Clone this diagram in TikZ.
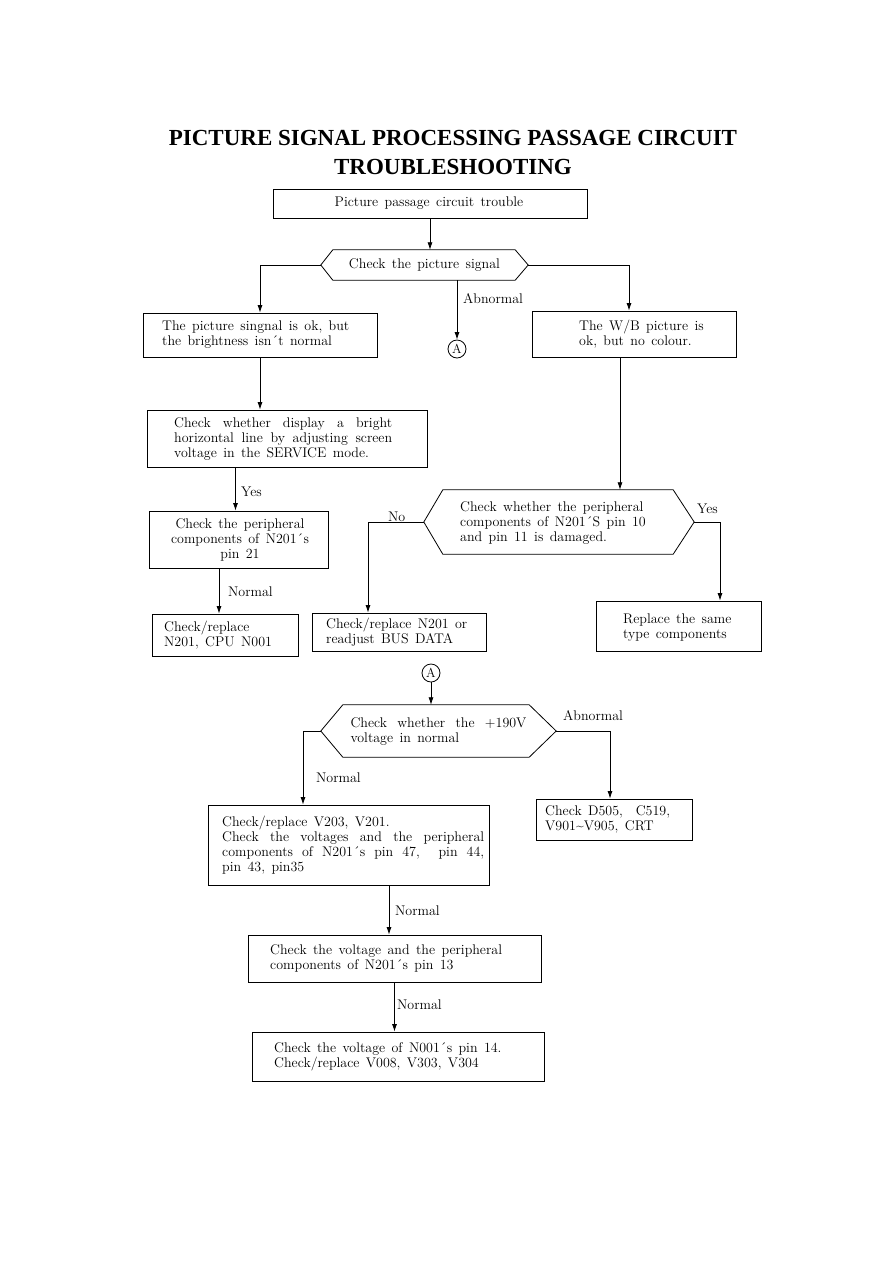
\documentclass[tikz,border=0pt]{standalone}
\usepackage{fontspec}
\setmainfont{Latin Modern Roman}[WordSpace=1.4]
\newfontfamily\titlefont{Liberation Serif}
\usetikzlibrary{arrows.meta,calc}
\newcommand\jline[2]{\makebox[#1][s]{#2}}
\begin{document}
\begin{tikzpicture}[x=1pt,y=-1pt,
  every node/.style={font=\fontsize{14}{15}\selectfont},
  box/.style={draw, line width=0.8pt, inner sep=0pt},
  hexa/.style={inner sep=0pt, align=left},
  txt/.style={anchor=west, align=left, inner sep=0pt},
  ctxt/.style={align=center, inner sep=0pt},
  lbl/.style={anchor=west, inner sep=0pt},
  conn/.style={line width=0.8pt},
  arr/.style={conn, -{Latex[length=7.5pt,width=5pt]}},
  circA/.style={draw, circle, line width=0.8pt, minimum size=18pt, inner sep=0pt, font=\fontsize{13}{13}\selectfont},
  title/.style={font=\titlefont\fontsize{23}{27}\bfseries\selectfont, inner sep=0pt}
]
\useasboundingbox (0,0) rectangle (893,1262);
\fill[white] (0,0) rectangle (893,1262);

% title
\node[title] (T1) at (453,138) {PICTURE SIGNAL PROCESSING PASSAGE CIRCUIT};
\node[title] (T2) at (453,167) {TROUBLESHOOTING};

% boxes
\node[box, minimum width=314pt, minimum height=29pt] (b1) at (430,203.5) {};
\node[ctxt] (t1) at (429,203.5) {Picture passage circuit trouble};

\node[box, minimum width=234pt, minimum height=44pt] (b2) at (260,335) {};
\node[txt] (t2) at (162,335) {The picture singnal is ok, but\\the brightness isn´t normal};

\node[box, minimum width=204pt, minimum height=46pt] (b3) at (634,334) {};
\node[txt] (t3) at (579,334) {The W/B picture is\\ok, but no colour.};

\node[box, minimum width=280pt, minimum height=57pt] (b4) at (287,438.5) {};
\node[txt] (t4) at (174,438.5) {\jline{218pt}{Check whether display a bright}\\\jline{218pt}{horizontal line by adjusting screen}\\voltage in the SERVICE mode.};

\node[box, minimum width=179pt, minimum height=57pt] (b5) at (238.5,539.5) {};
\node[ctxt] (t5) at (240,540) {Check the peripheral\\components of N201´s\\pin 21};

\node[box, minimum width=146pt, minimum height=42pt] (b6) at (225,635) {};
\node[txt] (t6) at (164,635) {Check/replace\\N201, CPU N001};

\node[box, minimum width=174pt, minimum height=38pt] (b7) at (399,632) {};
\node[txt] (t7) at (326,632) {Check/replace N201 or\\readjust BUS DATA};

\node[box, minimum width=165pt, minimum height=50pt] (b8) at (678.5,626) {};
\node[txt] (t8) at (623,628) {Replace the same\\type components};

\node[box, minimum width=281pt, minimum height=80pt] (b9) at (348.5,845) {};
\node[txt] (t9) at (222,845) {Check/replace V203, V201.\\\jline{262pt}{Check the voltages and the peripheral}\\\jline{262pt}{components of N201´s pin 47, \ pin 44,}\\pin 43, pin35};

\node[box, minimum width=156pt, minimum height=41pt] (b10) at (614,819.5) {};
\node[txt] (t10) at (545,819.5) {Check D505, \ C519,\\V901\char"7E V905, CRT};

\node[box, minimum width=293pt, minimum height=47pt] (b11) at (394.5,958.5) {};
\node[txt] (t11) at (270,958.5) {Check the voltage and the peripheral\\components of N201´s pin 13};

\node[box, minimum width=292pt, minimum height=49pt] (b12) at (398,1056.5) {};
\node[txt] (t12) at (274,1056.5) {Check the voltage of N001´s pin 14.\\Check/replace V008, V303, V304};

% hexagons
\node[hexa, minimum width=207pt, minimum height=30pt] (h1) at (424.5,265) {Check the picture signal};
\draw[conn] (h1.west) -- ($(h1.north west)+(12,0)$) -- ($(h1.north east)+(-13,0)$) -- (h1.east)
  -- ($(h1.south east)+(-13,0)$) -- ($(h1.south west)+(12,0)$) -- cycle;

\node[hexa, minimum width=270pt, minimum height=64pt] (h2) at (559,522) {};
\node[txt] (th2) at (460,523) {Check whether the peripheral\\components of N201´S pin 10\\and pin 11 is damaged.};
\draw[conn] (h2.west) -- ($(h2.north west)+(19,0)$) -- ($(h2.north east)+(-21,0)$) -- (h2.east)
  -- ($(h2.south east)+(-21,0)$) -- ($(h2.south west)+(19,0)$) -- cycle;

\node[hexa, minimum width=235pt, minimum height=52pt] (h3) at (438.5,731) {\jline{176pt}{Check whether the +190V}\\voltage in normal};
\draw[conn] (h3.west) -- ($(h3.north west)+(22,0)$) -- ($(h3.north east)+(-27,0)$) -- (h3.east)
  -- ($(h3.south east)+(-27,0)$) -- ($(h3.south west)+(22,0)$) -- cycle;

% connector circles
\node[circA] (A1) at (457,349) {A};
\node[circA] (A2) at (431,673) {A};

% connectors
\draw[arr] (b1.south) -- (b1.south |- h1.north);
\draw[arr] (h1.west) -| (b2.north);
\draw[arr] (h1.east) -| ([xshift=-5pt]b3.north);
\draw[arr] (A1 |- h1.south) -- (A1.north);
\node[lbl] (l1) at (463,299) {Abnormal};

\draw[arr] (b2.south) -- (b2.south |- b4.north);
\draw[arr] ([xshift=-14pt]b3.south) -- ([xshift=-14pt]b3.south |- h2.north);

\draw[arr] ([xshift=-3pt]b5.north |- b4.south) -- ([xshift=-3pt]b5.north);
\node[lbl] (l2) at (241,492) {Yes};

\draw[arr] ([xshift=-6pt]b6.north |- b5.south) -- ([xshift=-6pt]b6.north);
\node[lbl] (l3) at (228,592) {Normal};

\draw[arr] (h2.west) -| ([xshift=-31pt]b7.north);
\node[lbl] (l4) at (388,517) {No};
\draw[arr] (h2.east) -| ([xshift=41.5pt]b8.north);
\node[lbl] (l5) at (697,509) {Yes};

\draw[arr] (A2.south) -- (A2.south |- h3.north);

\draw[arr] (h3.west) -| ([xshift=-45.5pt]b9.north);
\node[lbl] (l6) at (316,778) {Normal};
\draw[arr] (h3.east) -| ([xshift=-4pt]b10.north);
\node[lbl] (l7) at (563,716) {Abnormal};

\draw[arr] ([xshift=-5.5pt]b11.north |- b9.south) -- ([xshift=-5.5pt]b11.north);
\node[lbl] (l8) at (395,911) {Normal};

\draw[arr] (b11.south) -- (b11.south |- b12.north);
\node[lbl] (l9) at (397,1005) {Normal};
\end{tikzpicture}
\end{document}
